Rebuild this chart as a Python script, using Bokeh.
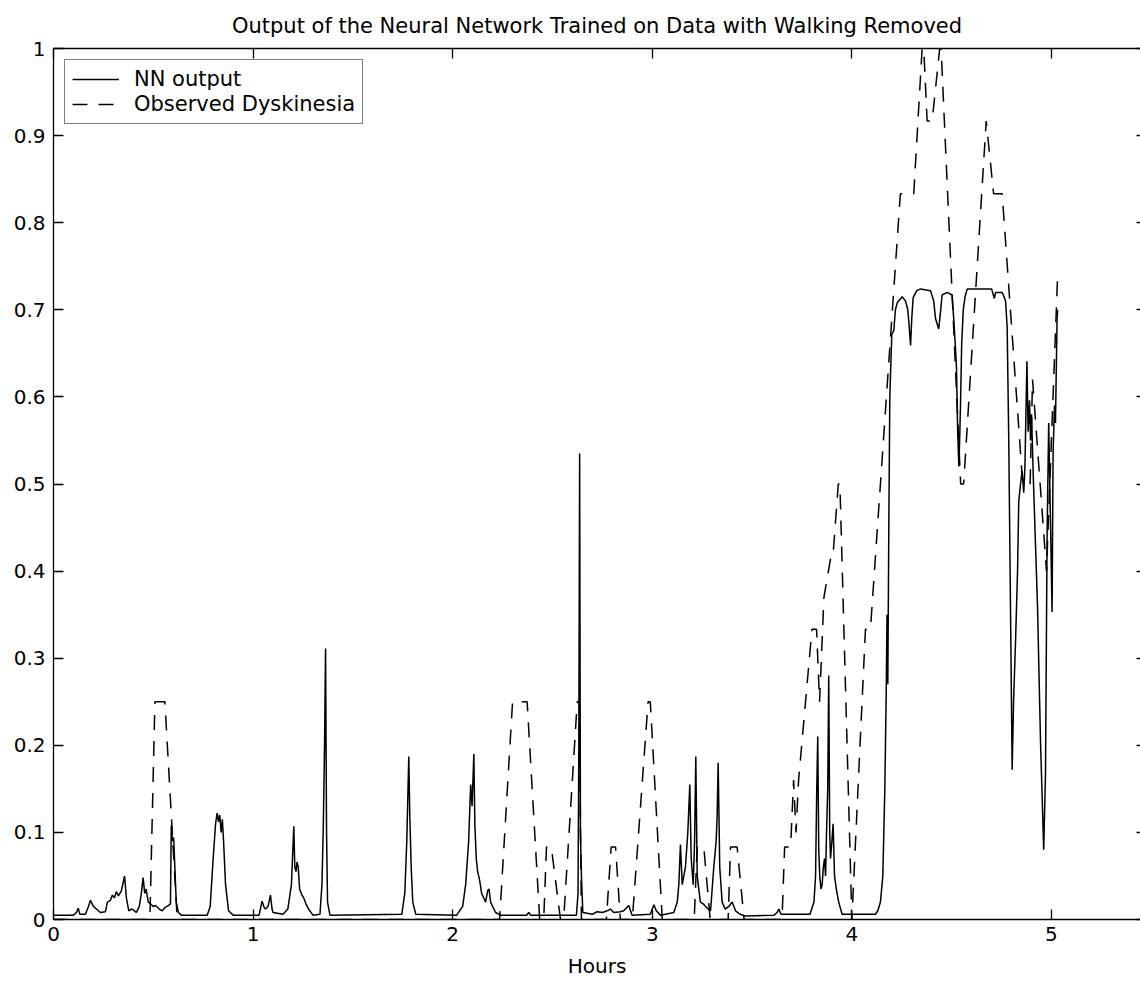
from bokeh.plotting import figure
from bokeh.models import (Legend, LegendItem, LinearAxis, FixedTicker, Range1d,
                          CustomJSTickFormatter, CustomLabelingPolicy)
from bokeh.embed import file_html
from bokeh.resources import INLINE

# ---------------- data ----------------
title_text = "Output of the Neural Network Trained on Data with Walking Removed"
x_label = "Hours"
series_names = ["NN output", "Observed Dyskinesia"]

x_ticks = [0, 1, 2, 3, 4, 5]
y_ticks = [0, 0.1, 0.2, 0.3, 0.4, 0.5, 0.6, 0.7, 0.8, 0.9, 1]
y_tick_labels = ["0", "0.1", "0.2", "0.3", "0.4", "0.5", "0.6", "0.7", "0.8", "0.9", "1"]

nn_hours = [
    0.000, 0.100, 0.115, 0.124, 0.132, 0.160, 0.175, 0.185, 0.200, 0.215,
    0.235, 0.260, 0.270, 0.285, 0.295, 0.305, 0.315, 0.325, 0.340, 0.356,
    0.365, 0.377, 0.390, 0.400, 0.415, 0.430, 0.440, 0.449, 0.457, 0.464,
    0.475, 0.486, 0.500, 0.511, 0.530, 0.545, 0.560, 0.575, 0.586, 0.590,
    0.596, 0.602, 0.608, 0.615, 0.626, 0.640, 0.770, 0.785, 0.800, 0.812,
    0.820, 0.827, 0.833, 0.840, 0.846, 0.852, 0.862, 0.877, 0.900, 1.030,
    1.045, 1.055, 1.062, 1.075, 1.087, 1.095, 1.100, 1.150, 1.174, 1.192,
    1.204, 1.209, 1.215, 1.220, 1.226, 1.233, 1.245, 1.253, 1.265, 1.278,
    1.300, 1.335, 1.345, 1.352, 1.358, 1.363, 1.368, 1.373, 1.385, 1.745,
    1.760, 1.770, 1.780, 1.785, 1.792, 1.800, 1.815, 2.020, 2.050, 2.065,
    2.080, 2.090, 2.097, 2.106, 2.111, 2.118, 2.125, 2.135, 2.145, 2.155,
    2.165, 2.175, 2.182, 2.190, 2.200, 2.215, 2.240, 2.370, 2.381, 2.390,
    2.620, 2.628, 2.632, 2.636, 2.640, 2.645, 2.652, 2.700, 2.724, 2.750,
    2.774, 2.790, 2.807, 2.840, 2.857, 2.882, 2.899, 2.990, 3.008, 3.020,
    3.041, 3.108, 3.125, 3.133, 3.141, 3.150, 3.158, 3.166, 3.178, 3.188,
    3.195, 3.205, 3.212, 3.218, 3.225, 3.241, 3.255, 3.267, 3.280, 3.292,
    3.308, 3.320, 3.325, 3.330, 3.338, 3.350, 3.365, 3.383, 3.400, 3.417,
    3.440, 3.467, 3.610, 3.625, 3.634, 3.645, 3.790, 3.810, 3.818, 3.824,
    3.829, 3.834, 3.839, 3.845, 3.851, 3.857, 3.863, 3.868, 3.873, 3.879,
    3.884, 3.889, 3.893, 3.900, 3.906, 3.913, 3.922, 3.934, 3.951, 4.118,
    4.130, 4.143, 4.155, 4.165, 4.172, 4.176, 4.180, 4.185, 4.190, 4.200,
    4.210, 4.218, 4.227, 4.252, 4.269, 4.280, 4.285, 4.294, 4.300, 4.307,
    4.325, 4.344, 4.394, 4.410, 4.419, 4.435, 4.445, 4.452, 4.477, 4.502,
    4.510, 4.518, 4.524, 4.530, 4.536, 4.541, 4.545, 4.550, 4.558, 4.567,
    4.578, 4.700, 4.714, 4.720, 4.731, 4.753, 4.762, 4.770, 4.778, 4.786,
    4.795, 4.803, 4.810, 4.820, 4.830, 4.836, 4.845, 4.853, 4.861, 4.867,
    4.877, 4.883, 4.890, 4.895, 4.900, 4.910, 4.920, 4.930, 4.945, 4.961,
    4.970, 4.978, 4.986, 4.995, 5.003, 5.008, 5.015, 5.020, 5.028, 5.031,
]
nn_values = [
    0.005, 0.005, 0.008, 0.013, 0.006, 0.006, 0.015, 0.022, 0.015, 0.012,
    0.008, 0.009, 0.020, 0.022, 0.028, 0.025, 0.032, 0.027, 0.033, 0.050,
    0.025, 0.010, 0.012, 0.011, 0.008, 0.015, 0.030, 0.048, 0.030, 0.035,
    0.020, 0.018, 0.015, 0.016, 0.012, 0.010, 0.014, 0.016, 0.018, 0.108,
    0.090, 0.094, 0.060, 0.020, 0.008, 0.005, 0.005, 0.015, 0.070, 0.110,
    0.122, 0.112, 0.120, 0.100, 0.115, 0.090, 0.040, 0.010, 0.005, 0.005,
    0.021, 0.014, 0.012, 0.015, 0.028, 0.012, 0.008, 0.006, 0.012, 0.040,
    0.107, 0.060, 0.055, 0.066, 0.061, 0.035, 0.028, 0.025, 0.018, 0.012,
    0.005, 0.006, 0.040, 0.110, 0.200, 0.311, 0.100, 0.020, 0.005, 0.006,
    0.030, 0.090, 0.187, 0.120, 0.060, 0.020, 0.006, 0.005, 0.015, 0.040,
    0.090, 0.155, 0.130, 0.190, 0.110, 0.070, 0.055, 0.045, 0.030, 0.025,
    0.020, 0.033, 0.035, 0.020, 0.015, 0.008, 0.005, 0.005, 0.008, 0.005,
    0.005, 0.030, 0.200, 0.535, 0.100, 0.050, 0.008, 0.006, 0.009, 0.008,
    0.010, 0.012, 0.008, 0.009, 0.010, 0.016, 0.005, 0.006, 0.017, 0.010,
    0.005, 0.008, 0.020, 0.040, 0.086, 0.040, 0.050, 0.060, 0.100, 0.155,
    0.070, 0.040, 0.090, 0.187, 0.050, 0.020, 0.018, 0.015, 0.012, 0.010,
    0.060, 0.090, 0.120, 0.180, 0.060, 0.020, 0.012, 0.015, 0.020, 0.010,
    0.006, 0.004, 0.005, 0.008, 0.012, 0.006, 0.006, 0.020, 0.050, 0.150,
    0.210, 0.080, 0.050, 0.035, 0.040, 0.060, 0.070, 0.050, 0.100, 0.150,
    0.280, 0.100, 0.070, 0.090, 0.110, 0.050, 0.035, 0.020, 0.006, 0.006,
    0.010, 0.020, 0.050, 0.150, 0.260, 0.350, 0.270, 0.450, 0.600, 0.672,
    0.676, 0.700, 0.708, 0.715, 0.710, 0.700, 0.687, 0.659, 0.690, 0.714,
    0.722, 0.724, 0.722, 0.710, 0.690, 0.678, 0.700, 0.717, 0.720, 0.717,
    0.690, 0.660, 0.634, 0.560, 0.520, 0.560, 0.600, 0.660, 0.700, 0.715,
    0.724, 0.724, 0.713, 0.720, 0.720, 0.720, 0.715, 0.710, 0.680, 0.550,
    0.350, 0.172, 0.250, 0.320, 0.400, 0.480, 0.500, 0.515, 0.490, 0.520,
    0.641, 0.560, 0.596, 0.550, 0.580, 0.500, 0.430, 0.360, 0.205, 0.080,
    0.167, 0.440, 0.570, 0.457, 0.353, 0.535, 0.590, 0.570, 0.690, 0.700,
]

obs_hours = [
    0.000, 0.483, 0.508, 0.558, 0.620, 2.235, 2.300, 2.373, 2.436, 2.456,
    2.470, 2.494, 2.540, 2.556, 2.624, 2.634, 2.645, 2.770, 2.794, 2.816,
    2.840, 2.900, 2.979, 2.990, 3.050, 3.210, 3.225, 3.258, 3.290, 3.380,
    3.392, 3.425, 3.460, 3.650, 3.663, 3.693, 3.708, 3.720, 3.733, 3.800,
    3.823, 3.838, 3.860, 3.895, 3.905, 3.932, 3.940, 4.000, 4.068, 4.093,
    4.243, 4.310, 4.352, 4.360, 4.377, 4.402, 4.440, 4.447, 4.545, 4.560,
    4.673, 4.710, 4.753, 4.856, 4.893, 4.905, 4.975, 5.030,
]
obs_values = [
    0.0, 0.0, 0.25, 0.25, 0.0, 0.0, 0.25, 0.25, 0.0, 0.0,
    0.0833, 0.0833, 0.0, 0.0, 0.25, 0.25, 0.0, 0.0, 0.0833, 0.0833,
    0.0, 0.0, 0.25, 0.25, 0.0, 0.0, 0.0833, 0.0833, 0.0, 0.0,
    0.0833, 0.0833, 0.0, 0.0, 0.0833, 0.0833, 0.16, 0.10, 0.16, 0.3333,
    0.3333, 0.25, 0.37, 0.4167, 0.4167, 0.5, 0.5, 0.0, 0.3333, 0.3333,
    0.8333, 0.8333, 1.0, 1.0, 0.9167, 0.9167, 1.0, 1.0, 0.5, 0.5,
    0.9167, 0.8333, 0.8333, 0.5, 0.5, 0.62, 0.40, 0.735,
]

# ---------------- styling ----------------
FONT = "DejaVu Sans"
X_MAX = 5.446

p = figure(width=1140, height=982,
           x_range=Range1d(0, X_MAX), y_range=Range1d(0, 1),
           output_backend="svg", toolbar_location=None,
           title=title_text,
           min_border_left=53, min_border_right=0,
           min_border_top=48, min_border_bottom=63)

p.background_fill_color = "white"
p.border_fill_color = "white"
p.outline_line_color = None
p.grid.visible = False

p.title.text_font = FONT
p.title.text_font_size = "21px"
p.title.text_font_style = "normal"
p.title.text_color = "black"
p.title.align = "center"
p.title.standoff = 22

y_formatter = CustomJSTickFormatter(args=dict(yvals=y_ticks, ylabs=y_tick_labels), code="""
    for (let i = 0; i < yvals.length; i++) {
        if (Math.abs(yvals[i] - tick) < 1e-9) { return ylabs[i]; }
    }
    return String(tick);
""")

no_labels = CustomLabelingPolicy(code="""
    return new Set()
""")

def style_axis(ax, tick_len):
    ax.axis_line_color = "black"
    ax.axis_line_width = 1.3
    ax.major_tick_line_color = "black"
    ax.major_tick_line_width = 1.3
    ax.major_tick_in = tick_len
    ax.major_tick_out = 0
    ax.minor_tick_line_color = None
    ax.major_label_text_font = FONT
    ax.major_label_text_font_size = "20px"
    ax.major_label_text_color = "black"

xa = p.xaxis[0]
xa.ticker = FixedTicker(ticks=x_ticks)
style_axis(xa, 10)
xa.major_label_standoff = 7
xa.axis_label = x_label
xa.axis_label_text_font = FONT
xa.axis_label_text_font_size = "20px"
xa.axis_label_text_font_style = "normal"
xa.axis_label_text_color = "black"
xa.axis_label_standoff = 10

ya = p.yaxis[0]
ya.ticker = FixedTicker(ticks=y_ticks)
ya.formatter = y_formatter
style_axis(ya, 10)
ya.major_label_standoff = 8

top = LinearAxis(ticker=FixedTicker(ticks=x_ticks))
style_axis(top, 10)
top.major_label_text_font_size = "0px"
top.major_label_standoff = 0
top.major_label_policy = no_labels
p.add_layout(top, "above")

right = LinearAxis(ticker=FixedTicker(ticks=y_ticks))
style_axis(right, 4)
right.axis_line_color = None
right.major_label_text_font_size = "0px"
right.major_label_standoff = 0
right.major_label_policy = no_labels
p.add_layout(right, "right")

r_nn = p.line(nn_hours, nn_values, line_color="black", line_width=1.5)
r_obs = p.line(obs_hours, obs_values, line_color="black", line_width=1.5,
               line_dash="15 11")

legend = Legend(items=[LegendItem(label=series_names[0], renderers=[r_nn]),
                       LegendItem(label=series_names[1], renderers=[r_obs])],
                location="top_left")
legend.margin = 11
legend.padding = 7
legend.spacing = 1
legend.glyph_width = 47
legend.glyph_height = 20
legend.label_height = 20
legend.label_standoff = 15
legend.label_text_font = FONT
legend.label_text_font_size = "21px"
legend.label_text_color = "black"
legend.border_line_color = "black"
legend.border_line_width = 1.3
legend.background_fill_color = "white"
legend.background_fill_alpha = 1.0
p.add_layout(legend)

open("out.html", "w").write(file_html(p, INLINE))
